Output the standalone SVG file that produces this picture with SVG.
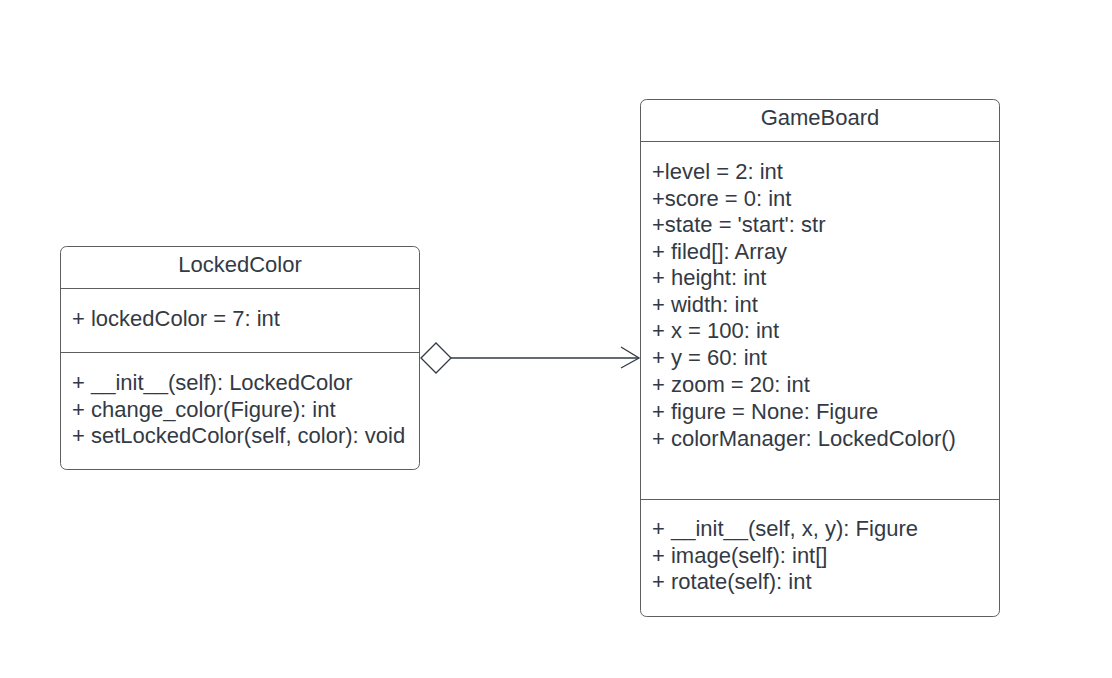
<svg xmlns="http://www.w3.org/2000/svg" width="1112" height="678" viewBox="0 0 1112 678">
<style>
.box{fill:#ffffff;stroke:#5e5e5e;stroke-width:1}
.div{stroke:#5e5e5e;stroke-width:1}
.t{font-family:"Liberation Sans",Arial,sans-serif;font-size:22px;fill:#333a45}
.h{text-anchor:middle}
.conn{fill:none;stroke:#333a45;stroke-width:1.3}
</style>
<rect width="1112" height="678" fill="#ffffff"/>
<g id="LockedColor">
<rect class="box" x="60.5" y="246.5" width="359" height="223" rx="6"/>
<line class="div" x1="60.5" y1="288.5" x2="419.5" y2="288.5"/>
<line class="div" x1="60.5" y1="352.5" x2="419.5" y2="352.5"/>
<text class="t h" x="240" y="272">LockedColor</text>
<text class="t" x="72" y="326">+ lockedColor = 7: int</text>
<text class="t" x="72" y="390">+ __init__(self): LockedColor</text>
<text class="t" x="72" y="417">+ change_color(Figure): int</text>
<text class="t" x="72" y="443">+ setLockedColor(self, color): void</text>
</g>
<g id="GameBoard">
<rect class="box" x="640.5" y="99.5" width="359" height="517" rx="6"/>
<line class="div" x1="640.5" y1="141.5" x2="999.5" y2="141.5"/>
<line class="div" x1="640.5" y1="499.5" x2="999.5" y2="499.5"/>
<text class="t h" x="820" y="125">GameBoard</text>
<text class="t" x="652" y="179">+level = 2: int</text>
<text class="t" x="652" y="206">+score = 0: int</text>
<text class="t" x="652" y="232">+state = 'start': str</text>
<text class="t" x="652" y="259">+ filed[]: Array</text>
<text class="t" x="652" y="285">+ height: int</text>
<text class="t" x="652" y="312">+ width: int</text>
<text class="t" x="652" y="338">+ x = 100: int</text>
<text class="t" x="652" y="365">+ y = 60: int</text>
<text class="t" x="652" y="392">+ zoom = 20: int</text>
<text class="t" x="652" y="419">+ figure = None: Figure</text>
<text class="t" x="652" y="446">+ colorManager: LockedColor()</text>
<text class="t" x="652" y="536">+ __init__(self, x, y): Figure</text>
<text class="t" x="652" y="563">+ image(self): int[]</text>
<text class="t" x="652" y="589">+ rotate(self): int</text>
</g>
<g id="connectors">
<polygon class="conn" points="421,358 436,343 451,358 436,373" fill="#ffffff"/>
<line class="conn" x1="451" y1="358" x2="639" y2="358"/>
<polyline class="conn" points="621,347 639,358 621,368"/>
</g>
</svg>
